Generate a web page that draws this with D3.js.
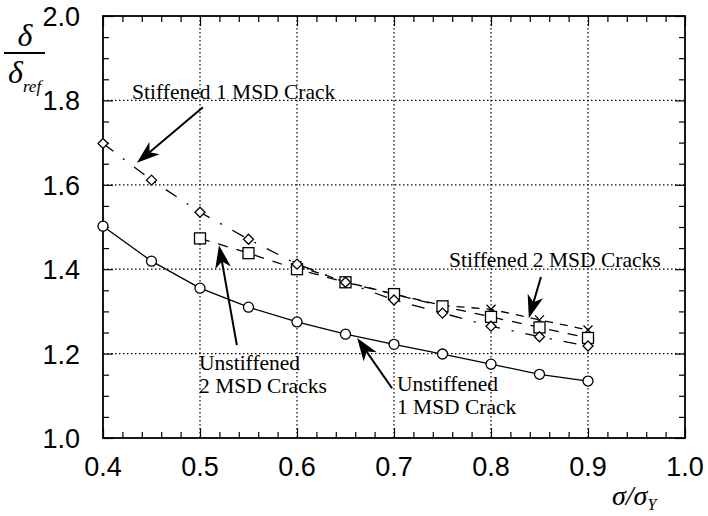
<!DOCTYPE html>
<html><head><meta charset="utf-8">
<script src="https://cdn.jsdelivr.net/npm/d3@7"></script>
<style>
body{margin:0;background:#fff;}
svg{display:block;}
</style>
</head><body>
<svg id="c" width="708" height="516"></svg>
<script>
// ---- data ----
const xValues = [0.40,0.45,0.50,0.55,0.60,0.65,0.70,0.75,0.80,0.85,0.90];
const unstiffened1 = [1.502,1.419,1.355,1.310,1.275,1.246,1.222,1.199,1.175,1.151,1.135];
const stiffened1   = [1.698,1.611,1.535,1.471,1.412,1.369,1.327,1.296,1.265,1.240,1.218];
const xValues2 = [0.50,0.55,0.60,0.65,0.70,0.75,0.80,0.85,0.90];
const unstiffened2 = [1.473,1.438,1.400,1.369,1.341,1.312,1.287,1.262,1.237];
const xValues3 = [0.60,0.65,0.70,0.75,0.80,0.85,0.90];
const stiffened2   = [1.408,1.370,1.341,1.314,1.305,1.280,1.256];
const xTicks = [0.4,0.5,0.6,0.7,0.8,0.9,1.0];
const yTicks = [1.0,1.2,1.4,1.6,1.8,2.0];
const xTickLabels = ["0.4","0.5","0.6","0.7","0.8","0.9","1.0"];
const yTickLabels = ["1.0","1.2","1.4","1.6","1.8","2.0"];
// annotations: text lines, x, y of first baseline (data units)
const labels = [
  {lines:["Stiffened 1 MSD Crack"], x:0.430, y:1.803},
  {lines:["Stiffened 2 MSD Cracks"], x:0.7567, y:1.405},
  {lines:["Unstiffened","2 MSD Cracks"], x:0.499, y:1.161},
  {lines:["Unstiffened","1 MSD Crack"], x:0.703, y:1.111}
];
const arrows = [
  {from:[0.503,1.784], to:[0.435,1.652]},
  {from:[0.538,1.220], to:[0.5196,1.457]},
  {from:[0.698,1.118], to:[0.662,1.237]},
  {from:[0.8515,1.3815], to:[0.839,1.284]}
];

const svg = d3.select("#c");
const L=103, R=685, T=16, B=438;
const x = d3.scaleLinear().domain([0.4,1.0]).range([L,R]);
const y = d3.scaleLinear().domain([1.0,2.0]).range([B,T]);

// grid
const g = svg.append("g");
g.selectAll(".gx").data(xTicks.slice(1,-1)).enter().append("line")
  .attr("x1",d=>x(d)).attr("x2",d=>x(d)).attr("y1",T).attr("y2",B)
  .attr("stroke","#000").attr("stroke-width",1.2).attr("stroke-dasharray","1.5,2.5");
g.selectAll(".gy").data(yTicks.slice(1,-1)).enter().append("line")
  .attr("y1",d=>y(d)).attr("y2",d=>y(d)).attr("x1",L).attr("x2",R)
  .attr("stroke","#000").attr("stroke-width",1.2).attr("stroke-dasharray","1.5,2.5");

// minor / major ticks via axes (inward)
const xMinor = d3.range(0.42,0.999,0.02).filter(v=>Math.abs(v*10-Math.round(v*10))>1e-6);
const yMinor = d3.range(1.05,1.999,0.05).filter(v=>Math.abs(v*5-Math.round(v*5))>1e-6);
function ax(axis, tx, ty){
  const a = svg.append("g").attr("transform",`translate(${tx},${ty})`).call(axis);
  a.select(".domain").remove();
  a.selectAll("line").attr("stroke","#000").attr("stroke-width",1.2);
  a.selectAll("text").remove();
  return a;
}
ax(d3.axisBottom(x).tickValues(xMinor).tickSize(-6).tickFormat(""),0,B);
ax(d3.axisTop(x).tickValues(xMinor).tickSize(-6).tickFormat(""),0,T);
ax(d3.axisBottom(x).tickValues(xTicks).tickSize(-10).tickFormat(""),0,B);
ax(d3.axisTop(x).tickValues(xTicks).tickSize(-10).tickFormat(""),0,T);
ax(d3.axisLeft(y).tickValues(yMinor).tickSize(-6).tickFormat(""),L,0);
ax(d3.axisRight(y).tickValues(yMinor).tickSize(-6).tickFormat(""),R,0);
ax(d3.axisLeft(y).tickValues(yTicks).tickSize(-10).tickFormat(""),L,0);
ax(d3.axisRight(y).tickValues(yTicks).tickSize(-10).tickFormat(""),R,0);

// frame
svg.append("rect").attr("x",L).attr("y",T).attr("width",R-L).attr("height",B-T)
  .attr("fill","none").attr("stroke","#000").attr("stroke-width",1.8);

// tick labels
svg.selectAll(".xl").data(xTicks).enter().append("text")
  .attr("x",d=>x(d)).attr("y",476).attr("text-anchor","middle")
  .attr("font-family","Liberation Sans, Arial, sans-serif").attr("font-size",27)
  .text((d,i)=>xTickLabels[i]);
svg.selectAll(".yl").data(yTicks).enter().append("text")
  .attr("x",80).attr("y",d=>y(d)+10).attr("text-anchor","end")
  .attr("font-family","Liberation Sans, Arial, sans-serif").attr("font-size",27)
  .text((d,i)=>yTickLabels[i]);

// series
const line = d3.line().x(d=>x(d[0])).y(d=>y(d[1]));
const s1 = xValues.map((v,i)=>[v,unstiffened1[i]]);
const s2 = xValues.map((v,i)=>[v,stiffened1[i]]);
const s3 = xValues2.map((v,i)=>[v,unstiffened2[i]]);
const s4 = xValues3.map((v,i)=>[v,stiffened2[i]]);
svg.append("path").datum(s1).attr("d",line).attr("fill","none").attr("stroke","#000").attr("stroke-width",1.3);
svg.append("path").datum(s2).attr("d",line).attr("fill","none").attr("stroke","#000").attr("stroke-width",1.3).attr("stroke-dasharray","13,12,2,12");
svg.append("path").datum(s3).attr("d",line).attr("fill","none").attr("stroke","#000").attr("stroke-width",1.3).attr("stroke-dasharray","10,9");
svg.append("path").datum(s4).attr("d",line).attr("fill","none").attr("stroke","#000").attr("stroke-width",1.3).attr("stroke-dasharray","8,7");

svg.selectAll(".c").data(s1).enter().append("circle")
  .attr("cx",d=>x(d[0])).attr("cy",d=>y(d[1])).attr("r",5)
  .attr("fill","#fff").attr("stroke","#000").attr("stroke-width",1.3);
svg.selectAll(".x").data(s4).enter().append("path")
  .attr("transform",d=>`translate(${x(d[0])},${y(d[1])})`)
  .attr("d","M-4.5,-4.5L4.5,4.5M-4.5,4.5L4.5,-4.5")
  .attr("fill","none").attr("stroke","#000").attr("stroke-width",1.3);
svg.selectAll(".s").data(s3).enter().append("rect")
  .attr("x",d=>x(d[0])-5.5).attr("y",d=>y(d[1])-5.5).attr("width",11).attr("height",11)
  .attr("fill","#fff").attr("stroke","#000").attr("stroke-width",1.3);
svg.selectAll(".d").data(s2).enter().append("path")
  .attr("transform",d=>`translate(${x(d[0])},${y(d[1])})`)
  .attr("d","M0,-5L5,0L0,5L-5,0Z")
  .attr("fill","#fff").attr("stroke","#000").attr("stroke-width",1.3);

// annotations
labels.forEach(l=>{
  const t = svg.append("text").attr("font-family","Liberation Serif, Times New Roman, serif")
    .attr("font-size",21.5).attr("fill","#000");
  l.lines.forEach((s,i)=>{
    t.append("tspan").attr("x",x(l.x)).attr("y",y(l.y)+i*23).text(s);
  });
});
arrows.forEach(a=>{
  const x1=x(a.from[0]), y1=y(a.from[1]), x2=x(a.to[0]), y2=y(a.to[1]);
  const ang=Math.atan2(y2-y1,x2-x1);
  const len=23, w=8;
  const bx=x2-len*Math.cos(ang), by=y2-len*Math.sin(ang);
  const nx=-Math.sin(ang), ny=Math.cos(ang);
  svg.append("line").attr("x1",x1).attr("y1",y1).attr("x2",bx+(len*0.4)*Math.cos(ang)).attr("y2",by+(len*0.4)*Math.sin(ang))
    .attr("stroke","#000").attr("stroke-width",2);
  const nb = [x2-len*0.72*Math.cos(ang), y2-len*0.72*Math.sin(ang)];
  svg.append("path").attr("d",`M${x2},${y2}L${bx+nx*w},${by+ny*w}L${nb[0]},${nb[1]}L${bx-nx*w},${by-ny*w}Z`)
    .attr("fill","#000");
});

// axis titles
const yt = svg.append("g").attr("font-family","Liberation Serif, Times New Roman, serif").attr("font-style","italic");
yt.append("text").attr("x",25).attr("y",46).attr("text-anchor","middle").attr("font-size",32).text("δ");
yt.append("line").attr("x1",4).attr("x2",45).attr("y1",53).attr("y2",53).attr("stroke","#000").attr("stroke-width",2);
const dn = yt.append("text").attr("x",8).attr("y",83).attr("font-size",32);
dn.append("tspan").text("δ");
dn.append("tspan").attr("font-size",17).attr("dy",9).text("ref");
const xt = svg.append("text").attr("x",612).attr("y",505)
  .attr("font-family","Liberation Serif, Times New Roman, serif").attr("font-style","italic").attr("font-size",28);
xt.append("tspan").text("σ/σ");
xt.append("tspan").attr("font-size",16).attr("dy",5).text("Y");
</script>
</body></html>
